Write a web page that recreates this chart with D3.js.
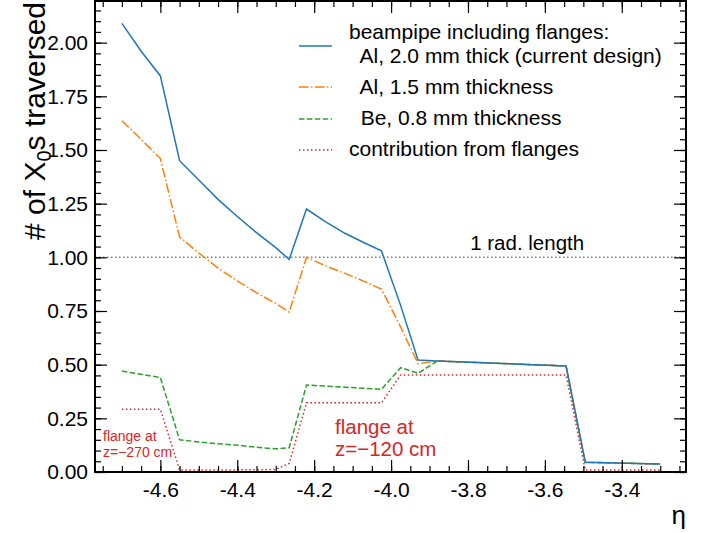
<!DOCTYPE html>
<html>
<head>
<meta charset="utf-8">
<script src="https://cdn.jsdelivr.net/npm/d3@7"></script>
<style>
  body { margin: 0; background: #fff; }
  svg { display: block; }
  text { font-family: "Liberation Sans", Arial, sans-serif; }
</style>
</head>
<body>
<div id="chart"></div>
<script>
// eta points (shared grid) and number of X0 per series
const eta     = [-4.70, -4.65, -4.60, -4.55, -4.50, -4.45, -4.40, -4.35, -4.30, -4.265, -4.22, -4.17, -4.12, -4.07, -4.025, -3.975, -3.93, -3.88, -3.545, -3.495, -3.30];
const al20    = [2.09, 1.96, 1.845, 1.45, 1.36, 1.27, 1.19, 1.115, 1.045, 0.99, 1.225, 1.165, 1.112, 1.068, 1.03, 0.775, 0.522, 0.517, 0.494, 0.045, 0.037];
const al15    = [1.636, 1.55, 1.46, 1.095, 1.02, 0.95, 0.89, 0.835, 0.785, 0.745, 1.0, 0.96, 0.925, 0.888, 0.852, 0.675, 0.505, 0.517, 0.494, 0.045, 0.037];
const be08    = [0.47, 0.455, 0.44, 0.15, 0.14, 0.132, 0.125, 0.115, 0.108, 0.113, 0.405, 0.40, 0.395, 0.39, 0.385, 0.486, 0.46, 0.517, 0.494, 0.045, 0.037];
const flanges = [0.292, 0.292, 0.292, 0.009, 0.009, 0.009, 0.01, 0.01, 0.012, 0.04, 0.322, 0.322, 0.322, 0.322, 0.322, 0.452, 0.452, 0.452, 0.452, 0.009, 0.009];

const xTicks = [-4.6, -4.4, -4.2, -4.0, -3.8, -3.6, -3.4];
const yTicks = [0, 0.25, 0.5, 0.75, 1.0, 1.25, 1.5, 1.75, 2.0];
const radLength = 1.0;

const legendLabels = ["  Al, 2.0 mm thick (current design)", "  Al, 1.5 mm thickness", "  Be, 0.8 mm thickness", "contribution from flanges"];

const W = 708, H = 533;
const margin = { top: 1, right: 22, bottom: 61, left: 95 };
const width = W - margin.left - margin.right;
const height = H - margin.top - margin.bottom;

const x = d3.scaleLinear().domain([-4.77, -3.233]).range([0, width]);
const y = d3.scaleLinear().domain([0, 2.194]).range([height, 0]);

const svg = d3.select("#chart").append("svg")
    .attr("width", W)
    .attr("height", H);

const g = svg.append("g")
    .attr("transform", "translate(" + margin.left + "," + margin.top + ")");

const series = [
  { values: al20,    color: "#1f77b4", dash: null },
  { values: al15,    color: "#ff7f0e", dash: "9.6,2.4,1.5,2.4" },
  { values: be08,    color: "#2ca02c", dash: "5.5,2.4" },
  { values: flanges, color: "#d62728", dash: "1.5,2.5" }
];

// 1 rad. length reference
g.append("line")
    .attr("x1", 0).attr("x2", width)
    .attr("y1", y(radLength)).attr("y2", y(radLength))
    .style("stroke", "#808080")
    .style("stroke-width", 1.5)
    .style("stroke-dasharray", "1.5,2.5");

g.append("text")
    .attr("x", x(-3.646)).attr("y", y(radLength) - 7)
    .attr("text-anchor", "middle")
    .style("font-size", "20.5px")
    .text("1 rad. length");

const lineGen = vals => d3.line()
    .x((d, i) => x(eta[i]))
    .y(d => y(d))(vals);

series.slice().reverse().forEach(s => {
  g.append("path")
      .attr("d", lineGen(s.values))
      .style("fill", "none")
      .style("stroke", s.color)
      .style("stroke-width", 1.5)
      .style("stroke-dasharray", s.dash);
});

// annotations
const red = "#d62728";
const small = g.append("text").style("fill", red).style("font-size", "14px");
small.append("tspan").attr("x", 8).attr("y", 440).text("flange at");
small.append("tspan").attr("x", 8).attr("y", 456).text("z=\u2212270 cm");

const big = g.append("text").style("fill", red).style("font-size", "20.5px");
big.append("tspan").attr("x", 240).attr("y", 433).text("flange at");
big.append("tspan").attr("x", 240).attr("y", 455).text("z=\u2212120 cm");

// legend
const leg = g.append("g");
leg.append("text").attr("x", 254).attr("y", 38)
    .style("font-size", "21px").text("beampipe including flanges:");
const legY = [45, 86, 118, 149];
const legTextY = [62, 93, 124, 155];
series.forEach((s, i) => {
  leg.append("line")
      .attr("x1", 204).attr("x2", 237)
      .attr("y1", legY[i]).attr("y2", legY[i])
      .style("stroke", s.color)
      .style("stroke-width", 1.5)
      .style("stroke-dasharray", s.dash);
  leg.append("text")
      .attr("x", 254).attr("y", legTextY[i])
      .style("font-size", "21px")
      .style("white-space", "pre")
      .attr("xml:space", "preserve")
      .text(legendLabels[i]);
});

// axes, ticks inward on all four sides
const xMinor = d3.range(-4.75, -3.24, 0.05);
const yMinor = d3.range(0, 2.19, 0.05);

function addAxis(axis, tx, ty, cls) {
  const a = g.append("g")
      .attr("class", cls)
      .attr("transform", "translate(" + tx + "," + ty + ")")
      .call(axis);
  a.select(".domain").remove();
  a.selectAll("line").style("stroke", "#000").style("stroke-width", 1.2);
  a.selectAll("text").style("font-size", "21px").style("fill", "#000").style("font-family", "Liberation Sans, Arial, sans-serif");
  return a;
}

addAxis(d3.axisBottom(x).tickValues(xTicks).tickSize(-12).tickPadding(10).tickFormat(d => d.toFixed(1)), 0, height, "x-axis");
addAxis(d3.axisBottom(x).tickValues(xMinor).tickSize(-6).tickFormat(""), 0, height, "x-minor");
addAxis(d3.axisTop(x).tickValues(xTicks).tickSize(-12).tickFormat(""), 0, 0, "x-top");
addAxis(d3.axisTop(x).tickValues(xMinor).tickSize(-6).tickFormat(""), 0, 0, "x-top-minor");
addAxis(d3.axisLeft(y).tickValues(yTicks).tickSize(-12).tickPadding(7).tickFormat(d => d.toFixed(2)), 0, 0, "y-axis");
addAxis(d3.axisLeft(y).tickValues(yMinor).tickSize(-6).tickFormat(""), 0, 0, "y-minor");
addAxis(d3.axisRight(y).tickValues(yTicks).tickSize(-12).tickFormat(""), width, 0, "y-right");
addAxis(d3.axisRight(y).tickValues(yMinor).tickSize(-6).tickFormat(""), width, 0, "y-right-minor");

g.append("rect")
    .attr("width", width).attr("height", height)
    .style("fill", "none")
    .style("stroke", "#000")
    .style("stroke-width", 2);

// axis labels
const yl = svg.append("text")
    .attr("transform", "translate(45,2) rotate(-90)")
    .attr("text-anchor", "end")
    .style("font-size", "30px");
yl.append("tspan").text("# of X");
yl.append("tspan").attr("dy", 6).style("font-size", "20px").text("0");
yl.append("tspan").attr("dy", -6).text("s traversed");

svg.append("text")
    .attr("x", margin.left + width).attr("y", 524)
    .attr("text-anchor", "end")
    .style("font-size", "26px")
    .text("\u03b7");
</script>
</body>
</html>
